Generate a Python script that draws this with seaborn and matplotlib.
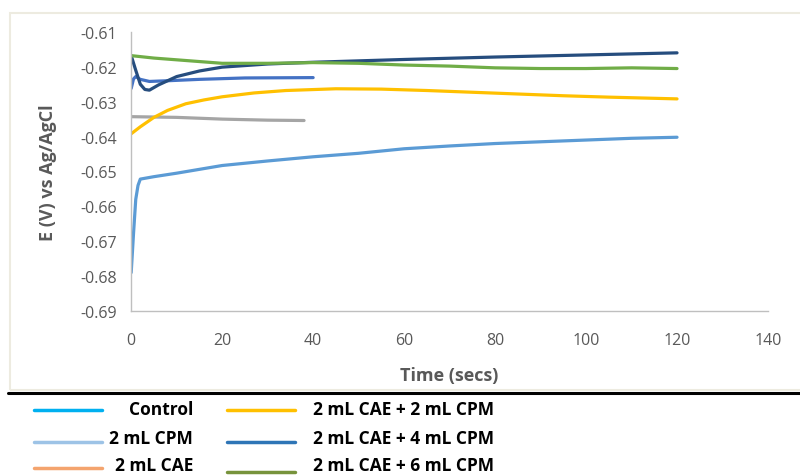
import matplotlib
matplotlib.use("Agg")
import matplotlib.pyplot as plt
from matplotlib.lines import Line2D
from matplotlib.patches import Rectangle
import seaborn as sns

# --- data ---
t_cpm = [0, 0.5, 1, 1.5, 2, 5, 10, 20, 30, 40, 50, 60, 70, 80, 90, 100, 110, 120]
e_cpm = [-0.679, -0.668, -0.658, -0.654, -0.6522, -0.6515, -0.6505, -0.6483, -0.647,
         -0.6458, -0.6448, -0.6435, -0.6427, -0.642, -0.6415, -0.641, -0.6405, -0.6402]

t_cae = [0, 10, 20, 30, 38]
e_cae = [-0.6343, -0.6345, -0.635, -0.6353, -0.6354]

t_cae2 = [0, 2, 5, 8, 12, 16, 20, 27, 34, 45, 55, 65, 75, 85, 95, 105, 120]
e_cae2 = [-0.6392, -0.6372, -0.6345, -0.6325, -0.6306, -0.6295, -0.6286, -0.6275, -0.6268,
          -0.6263, -0.6264, -0.6268, -0.6273, -0.6278, -0.6283, -0.6287, -0.6292]

t_cae4 = [0, 1, 2, 3, 4, 6, 10, 15, 20, 30, 40, 50, 60, 80, 100, 120]
e_cae4 = [-0.6168, -0.621, -0.625, -0.6265, -0.6267, -0.6252, -0.6228, -0.6212, -0.6201,
          -0.6192, -0.6187, -0.6183, -0.6179, -0.6172, -0.6166, -0.616]

t_ctrl = [0, 0.5, 1, 2, 4, 8, 15, 25, 40]
e_ctrl = [-0.6262, -0.6235, -0.6228, -0.6236, -0.6242, -0.624, -0.6236, -0.6232, -0.6231]

t_cae6 = [0, 5, 10, 20, 30, 40, 50, 60, 70, 80, 90, 100, 110, 120]
e_cae6 = [-0.6168, -0.6175, -0.618, -0.619, -0.619, -0.6188, -0.619, -0.6195, -0.6198,
          -0.6203, -0.6205, -0.6205, -0.6203, -0.6205]

legend_labels = ['Control', '2 mL CPM', '2 mL CAE',
                 '2 mL CAE + 2 mL CPM', '2 mL CAE + 4 mL CPM', '2 mL CAE + 6 mL CPM']
legend_colors = ['#00B0F0', '#9DC3E6', '#F4A46E', '#FFC000', '#2E75B6', '#77933C']

# --- setup ---
sns.set_theme(style="white")
plt.rcParams['font.family'] = ['Open Sans', 'DejaVu Sans']

fig = plt.figure(figsize=(8, 4.77), dpi=100)
ax = fig.add_axes([0.164, 0.346, 0.796, 0.585])

series = [
    (t_cpm, e_cpm, '#5B9BD5'),
    (t_cae, e_cae, '#A5A5A5'),
    (t_cae2, e_cae2, '#FFC000'),
    (t_ctrl, e_ctrl, '#4472C4'),
    (t_cae4, e_cae4, '#264D7E'),
    (t_cae6, e_cae6, '#70AD47'),
]
for t, e, c in series:
    sns.lineplot(x=t, y=e, color=c, linewidth=2.3, sort=False, estimator=None, ax=ax)

ax.set_xlim(0, 140)
ax.set_ylim(-0.69, -0.61)
ax.set_xticks(range(0, 141, 20))
ax.set_yticks([-0.69 + 0.01 * i for i in range(9)])
ax.set_yticklabels([f'{-0.69 + 0.01 * i:.2f}' for i in range(9)])
ax.tick_params(axis='both', length=0, labelsize=11.5, labelcolor='#595959')
ax.tick_params(axis='y', pad=10)
ax.tick_params(axis='x', pad=15)
for s in ['top', 'right']:
    ax.spines[s].set_visible(False)
for s in ['left', 'bottom']:
    ax.spines[s].set_color('#BFBFBF')
    ax.spines[s].set_linewidth(1.0)
ax.set_xlabel('Time (secs)', fontsize=13, fontweight='bold', color='#595959', labelpad=13)
ax.set_ylabel('E (V) vs Ag/AgCl', fontsize=13, fontweight='bold', color='#595959', labelpad=17)

# chart frame and separator line
fig.add_artist(Rectangle((10 / 800, 1 - 391 / 477), 800 / 800, (391 - 14) / 477,
                         transform=fig.transFigure, fill=False, edgecolor='#EDEBE0', linewidth=1.5))
fig.add_artist(Line2D([8 / 800, 1], [1 - 393.5 / 477] * 2, transform=fig.transFigure,
                      color='black', linewidth=2.2))

# legend pasted below the chart
text_y = [410, 439, 466]
left_line_y = [411, 443, 469]
right_line_y = [411, 443, 473]
for i, (lab, col) in enumerate(zip(legend_labels, legend_colors)):
    r = i % 3
    if i < 3:
        x0, x1, tx, ha, ly = 34, 102, 193, 'right', left_line_y[r]
    else:
        x0, x1, tx, ha, ly = 227, 295, 313, 'left', right_line_y[r]
    fig.add_artist(Line2D([x0 / 800, x1 / 800], [1 - ly / 477] * 2, transform=fig.transFigure,
                          color=col, linewidth=2.5))
    fig.text(tx / 800, 1 - text_y[r] / 477, lab, ha=ha, va='center', fontsize=12.5,
             fontweight='bold', color='black')

fig.savefig('out.png', dpi=100)
